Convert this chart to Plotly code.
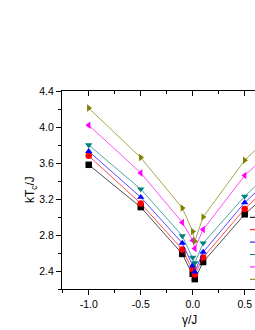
import plotly.graph_objects as go

# ---- data ----
gamma = [-1.0, -0.5, -0.1, 0.0, 0.02, 0.1, 0.5, 1.0]
kTc_black = [3.58, 3.11, 2.59, 2.37, 2.31, 2.50, 3.03, 3.55]
kTc_red = [3.68, 3.15, 2.64, 2.42, 2.36, 2.55, 3.09, 3.63]
kTc_blue = [3.73, 3.22, 2.71, 2.46, 2.39, 2.61, 3.16, 3.70]
kTc_teal = [3.80, 3.31, 2.79, 2.55, 2.49, 2.71, 3.23, 3.78]
kTc_magenta = [4.02, 3.49, 2.94, 2.74, 2.65, 2.86, 3.46, 4.00]
kTc_olive = [4.21, 3.66, 3.10, 2.84, 2.73, 3.00, 3.63, 4.18]

x_tickvals = [-1.0, -0.5, 0.0, 0.5]
x_ticktext = ["-1.0", "-0.5", "0.0", "0.5"]
y_tickvals = [2.4, 2.8, 3.2, 3.6, 4.0, 4.4]
y_ticktext = ["2.4", "2.8", "3.2", "3.6", "4.0", "4.4"]

series = [kTc_black, kTc_red, kTc_blue, kTc_teal, kTc_magenta, kTc_olive]

# ---- styles ----
colors = ["#000000", "#ff0000", "#0000ff", "#008080", "#ff00ff", "#808000"]
symbols = ["square", "circle", "triangle-up", "triangle-down", "triangle-left", "triangle-right"]
FONT = "Arial, Liberation Sans, sans-serif"

fig = go.Figure()
for vals, c, s in zip(series, colors, symbols):
    fig.add_trace(go.Scatter(
        x=gamma, y=vals, mode="lines+markers",
        line=dict(color=c, width=0.7),
        marker=dict(symbol=s, color=c, size=6.5, line=dict(width=0)),
        showlegend=False, cliponaxis=True,
    ))
# empty trace so the top (inside-tick) axis is drawn
fig.add_trace(go.Scatter(x=[], y=[], xaxis="x2", showlegend=False))

# legend sample segments (text lies outside the visible window)
shapes = []
leg_top = 0.362
leg_step = 0.0626
for i, c in enumerate(colors):
    yy = leg_top - i * leg_step
    shapes.append(dict(type="line", xref="paper", yref="paper",
                       x0=0.974, x1=1.1, y0=yy, y1=yy,
                       line=dict(color=c, width=1)))

axis_common = dict(showline=True, linecolor="black", linewidth=1,
                   showgrid=False, zeroline=False,
                   tickcolor="black", tickwidth=1,
                   tickfont=dict(family=FONT, size=10.5, color="black"))

fig.update_layout(
    width=255, height=330,
    margin=dict(l=62, r=0, t=91, b=41, autoexpand=False),
    paper_bgcolor="white", plot_bgcolor="white",
    xaxis=dict(range=[-1.257, 0.599], tickmode="array",
               tickvals=x_tickvals, ticktext=x_ticktext,
               ticks="outside", ticklen=5,
               minor=dict(ticks="outside", ticklen=3, dtick=0.25, tick0=0,
                          tickcolor="black", tickwidth=1),
               **axis_common),
    xaxis2=dict(overlaying="x", side="top", matches="x", anchor="y",
                tickmode="array", tickvals=x_tickvals, showticklabels=False,
                ticks="inside", ticklen=5,
                minor=dict(ticks="inside", ticklen=3, dtick=0.25, tick0=0,
                           tickcolor="black", tickwidth=1),
                **axis_common),
    yaxis=dict(range=[2.2, 4.4], tickmode="array",
               tickvals=y_tickvals, ticktext=y_ticktext,
               ticks="outside", ticklen=5,
               minor=dict(ticks="outside", ticklen=3, dtick=0.2, tick0=2.2,
                          tickcolor="black", tickwidth=1),
               **axis_common),
    shapes=shapes,
    annotations=[
        dict(text="\u03b3/J", xref="x", yref="paper", x=-0.03, y=-0.157,
             showarrow=False, xanchor="center", yanchor="middle",
             font=dict(family=FONT, size=12, color="black")),
        dict(text="kT<sub>c</sub>/J", xref="paper", yref="paper",
             x=-0.16, y=0.5, textangle=-90, showarrow=False,
             xanchor="center", yanchor="middle",
             font=dict(family=FONT, size=12, color="black")),
    ],
)

fig.write_html(
    "out.html",
    config={"displayModeBar": False, "staticPlot": True},
    post_script="document.body.style.margin='0';document.body.style.overflow='hidden';",
)
